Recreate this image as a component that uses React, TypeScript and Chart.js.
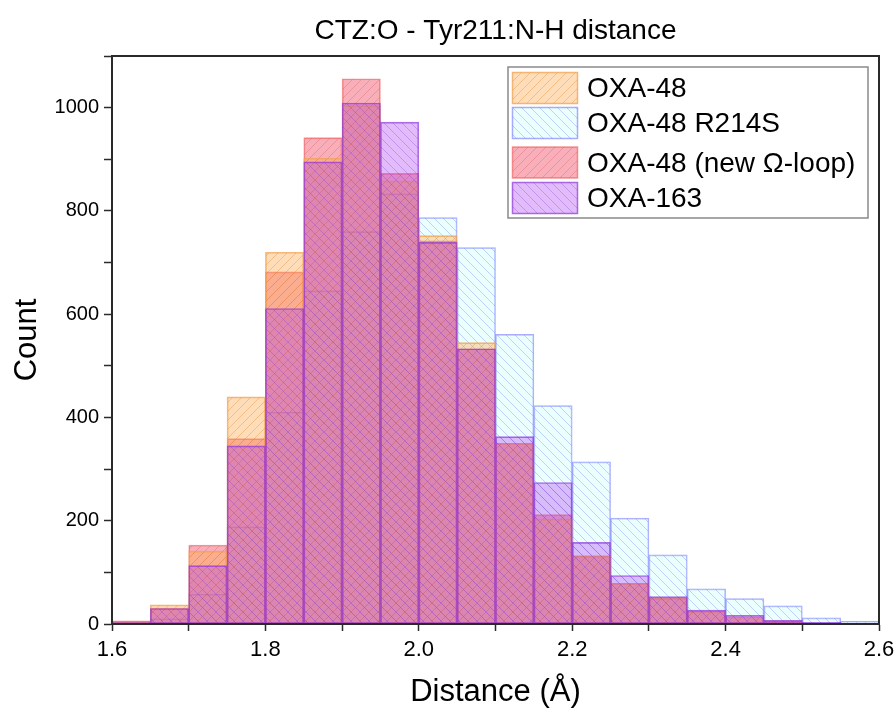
import React, { useEffect, useRef } from 'react';
import { Chart, registerables } from 'chart.js';

Chart.register(...registerables);

// Histogram bin left edges (Å), bin width 0.05
const binStarts = [1.6, 1.65, 1.7, 1.75, 1.8, 1.85, 1.9, 1.95, 2.0, 2.05, 2.1, 2.15, 2.2, 2.25, 2.3, 2.35, 2.4, 2.45, 2.5, 2.55];
const binWidth = 0.05;

const oxa48 = [5, 37, 141, 440, 720, 902, 1004, 858, 752, 545, 350, 203, 132, 79, 50, 25, 14, 6, 2, 1];
const oxa48R214S = [2, 10, 58, 188, 410, 645, 760, 833, 787, 729, 561, 423, 314, 205, 134, 68, 49, 35, 12, 5];
const oxa48NewLoop = [6, 31, 153, 359, 682, 942, 1056, 873, 742, 533, 350, 212, 132, 79, 50, 25, 14, 6, 2, 1];
const oxa163 = [4, 30, 113, 345, 611, 895, 1009, 972, 739, 533, 363, 274, 158, 94, 53, 27, 17, 7, 3, 1];

const seriesLabels = ['OXA-48', 'OXA-48 R214S', 'OXA-48 (new \u03A9-loop)', 'OXA-163'];
const xLabelTicks = [1.6, 1.8, 2.0, 2.2, 2.4, 2.6];
const yLabelTicks = [0, 200, 400, 600, 800, 1000];

const FONT = 'Arial, "Liberation Sans", sans-serif';

type Style = { fill: string; hatch: string; border: string; dir: '/' | '\\' };

const styles: Style[] = [
  { fill: 'rgba(255,170,80,0.40)', hatch: 'rgba(225,130,40,0.35)', border: 'rgba(240,160,80,0.75)', dir: '/' },
  { fill: 'rgba(200,255,255,0.35)', hatch: 'rgba(70,90,240,0.28)', border: 'rgba(70,70,255,0.45)', dir: '\\' },
  { fill: 'rgba(238,55,80,0.40)', hatch: 'rgba(215,50,60,0.25)', border: 'rgba(240,70,70,0.55)', dir: '/' },
  { fill: 'rgba(170,60,240,0.34)', hatch: 'rgba(120,40,210,0.28)', border: 'rgba(140,50,220,0.7)', dir: '\\' },
];

function makePattern(st: Style): CanvasPattern | string {
  const s = 9;
  const c = document.createElement('canvas');
  c.width = s;
  c.height = s;
  const g = c.getContext('2d');
  if (!g) return st.fill;
  g.fillStyle = st.fill;
  g.fillRect(0, 0, s, s);
  g.strokeStyle = st.hatch;
  g.lineWidth = 1;
  g.beginPath();
  if (st.dir === '/') {
    g.moveTo(0, s); g.lineTo(s, 0);
    g.moveTo(-1, 1); g.lineTo(1, -1);
    g.moveTo(s - 1, s + 1); g.lineTo(s + 1, s - 1);
  } else {
    g.moveTo(0, 0); g.lineTo(s, s);
    g.moveTo(s - 1, -1); g.lineTo(s + 1, 1);
    g.moveTo(-1, s - 1); g.lineTo(1, s + 1);
  }
  g.stroke();
  return g.createPattern(c, 'repeat') || st.fill;
}

const framePlugin = {
  id: 'frameAndLegend',
  afterDraw(chart: any) {
    const { ctx, chartArea: a } = chart;
    ctx.save();
    ctx.strokeStyle = '#2a2a2a';
    ctx.lineWidth = 2;
    ctx.strokeRect(a.left, a.top, a.right - a.left, a.bottom - a.top);

    // legend box
    const bx = a.right - 371;
    const by = a.top + 11;
    const bw = 360;
    const bh = 151;
    ctx.fillStyle = '#ffffff';
    ctx.fillRect(bx, by, bw, bh);
    ctx.strokeStyle = '#8a8a8a';
    ctx.lineWidth = 1.5;
    ctx.strokeRect(bx, by, bw, bh);
    const rowTops = [5.5, 40.5, 80, 115.5];
    chart.data.datasets.forEach((ds: any, i: number) => {
      const sx = bx + 4.5;
      const sy = by + rowTops[i];
      ctx.fillStyle = ds.backgroundColor;
      ctx.fillRect(sx, sy, 65, 31);
      ctx.strokeStyle = ds.borderColor;
      ctx.lineWidth = 1.5;
      ctx.strokeRect(sx, sy, 65, 31);
      ctx.fillStyle = '#000';
      ctx.font = `28px ${FONT}`;
      ctx.textBaseline = 'middle';
      ctx.textAlign = 'left';
      ctx.fillText(ds.label, bx + 79, sy + 17);
    });
    ctx.restore();
  },
};

export default function App() {
  const ref = useRef<HTMLCanvasElement | null>(null);

  useEffect(() => {
    if (!ref.current) return;
    const seriesValues = [oxa48, oxa48R214S, oxa48NewLoop, oxa163];
    const drawOrder = [2, 4, 3, 1];
    const datasets = seriesValues.map((vals, i) => ({
      label: seriesLabels[i],
      data: binStarts.map((s, j) => ({ x: s + binWidth / 2, y: vals[j] })),
      backgroundColor: makePattern(styles[i]),
      borderColor: styles[i].border,
      borderWidth: 1,
      borderSkipped: false,
      grouped: false,
      barPercentage: 1,
      categoryPercentage: 1,
      order: drawOrder[i],
    }));

    const chart = new Chart(ref.current, {
      type: 'bar',
      data: { datasets } as any,
      plugins: [framePlugin],
      options: {
        animation: false,
        responsive: false,
        maintainAspectRatio: false,
        layout: { padding: { left: 0, right: 17, top: 0, bottom: 0 } },
        plugins: {
          legend: { display: false },
          tooltip: { enabled: false },
          title: {
            display: true,
            text: 'CTZ:O - Tyr211:N-H distance',
            fullSize: false,
            color: '#000',
            font: { family: FONT, size: 28, weight: 'normal' },
            padding: { top: 14, bottom: 8.4 },
          },
        },
        scales: {
          x: {
            type: 'linear',
            min: 1.6,
            max: 2.6,
            offset: false,
            grid: { display: true, drawOnChartArea: false, offset: false, tickLength: 7, tickColor: '#2a2a2a', tickWidth: 1.5 },
            border: { display: true, color: '#2a2a2a', width: 2 },
            ticks: {
              stepSize: 0.1,
              color: '#000',
              padding: 6,
              maxRotation: 0,
              autoSkip: false,
              font: { family: FONT, size: 22 },
              callback: (v: any) => {
                const n = Number(v);
                const hit = xLabelTicks.find((t) => Math.abs(t - n) < 1e-6);
                return hit !== undefined ? hit.toFixed(1) : '';
              },
            },
            title: {
              display: true,
              text: 'Distance (\u00C5)',
              color: '#000',
              font: { family: FONT, size: 31 },
              padding: { top: 0, bottom: 4 },
            },
            afterFit: (s: any) => {
              s.height = 91;
              s.paddingLeft = 0;
              s.paddingRight = 0;
            },
          },
          y: {
            min: 0,
            max: 1100,
            grid: { display: true, drawOnChartArea: false, tickLength: 8, tickColor: '#2a2a2a', tickWidth: 1.5 },
            border: { display: true, color: '#2a2a2a', width: 2 },
            ticks: {
              stepSize: 100,
              color: '#000',
              padding: 5,
              autoSkip: false,
              font: { family: FONT, size: 20 },
              callback: (v: any) => {
                const n = Number(v);
                return yLabelTicks.includes(n) ? String(n) : '';
              },
            },
            title: {
              display: true,
              text: 'Count',
              color: '#000',
              font: { family: FONT, size: 31 },
              padding: { top: 9, bottom: 0 },
            },
            afterFit: (s: any) => {
              s.width = 112;
              s.paddingTop = 0;
              s.paddingBottom = 0;
            },
          },
        },
      } as any,
    });
    return () => chart.destroy();
  }, []);

  return (
    <div style={{ position: 'fixed', left: 0, top: 0, width: 896, height: 715, background: '#fff' }}>
      <canvas ref={ref} width={896} height={715} style={{ display: 'block' }} />
    </div>
  );
}
